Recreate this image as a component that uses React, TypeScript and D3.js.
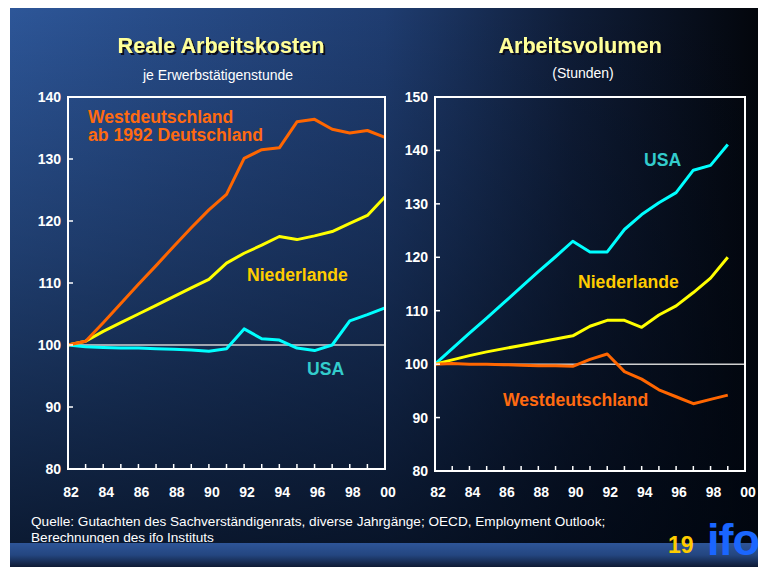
import React from "react";
import * as d3 from "d3";

const W = 758;
const H = 567;

const yearsLeft = [1982, 1983, 1984, 1985, 1986, 1987, 1988, 1989, 1990, 1991, 1992, 1993, 1994, 1995, 1996, 1997, 1998, 1999, 2000];
const leftWest = [100, 100.6, 103.6, 106.7, 109.8, 112.8, 115.9, 118.9, 121.8, 124.3, 130.1, 131.5, 131.8, 136.0, 136.4, 134.8, 134.2, 134.6, 133.5];
const leftNL = [100, 100.6, 102.2, 103.6, 105.0, 106.4, 107.8, 109.2, 110.6, 113.2, 114.8, 116.1, 117.5, 117.0, 117.6, 118.3, 119.6, 120.9, 123.9];
const leftUSA = [100, 99.7, 99.6, 99.5, 99.5, 99.4, 99.3, 99.2, 99.0, 99.4, 102.6, 101.0, 100.8, 99.5, 99.1, 100.0, 103.9, 104.9, 106.0];

const yearsRight = [1982, 1983, 1984, 1985, 1986, 1987, 1988, 1989, 1990, 1991, 1992, 1993, 1994, 1995, 1996, 1997, 1998, 1999];
const rightUSA = [100, 102.9, 105.8, 108.6, 111.5, 114.4, 117.3, 120.1, 123.0, 121.0, 121.0, 125.2, 128.0, 130.2, 132.1, 136.3, 137.2, 141.1];
const rightNL = [100, 100.8, 101.6, 102.3, 102.9, 103.5, 104.1, 104.7, 105.3, 107.1, 108.2, 108.2, 106.9, 109.2, 110.9, 113.4, 116.1, 120.0];
const rightWest = [100, 100.1, 100.0, 100.0, 99.9, 99.8, 99.7, 99.7, 99.6, 100.9, 101.9, 98.6, 97.2, 95.2, 93.9, 92.6, 93.4, 94.2];

const xTickYears = [1982, 1984, 1986, 1988, 1990, 1992, 1994, 1996, 1998, 2000];
const leftYTicks = [80, 90, 100, 110, 120, 130, 140];
const rightYTicks = [80, 90, 100, 110, 120, 130, 140, 150];

const leftTitle = "Reale Arbeitskosten";
const leftSubtitle = "je Erwerbstätigenstunde";
const rightTitle = "Arbeitsvolumen";
const rightSubtitle = "(Stunden)";
const leftLabels = { west: ["Westdeutschland", "ab 1992 Deutschland"], nl: "Niederlande", usa: "USA" };
const rightLabels = { west: "Westdeutschland", nl: "Niederlande", usa: "USA" };
const sourceLines = [
  "Quelle: Gutachten des Sachverständigenrats, diverse Jahrgänge; OECD, Employment Outlook;",
  "Berechnungen des ifo Instituts",
];
const pageNo = "19";
const logo = "ifo";

const C_ORANGE = "#ff6600";
const C_YELLOW = "#ffff00";
const C_CYAN = "#00ffff";
const T_ORANGE = "#ff6a10";
const T_YELLOW = "#ffcc00";
const T_CYAN = "#33cccc";
const FONT = "'Liberation Sans', Arial, sans-serif";

const allYears = d3.range(1982, 2001);

type PanelProps = {
  x0: number; x1: number; y0: number; y1: number; yMax: number; yTicks: number[];
  series: { years: number[]; values: number[]; color: string }[];
};

function Panel({ x0, x1, y0, y1, yMax, yTicks, series }: PanelProps) {
  const x = d3.scaleLinear().domain([1982, 2000]).range([x0, x1]);
  const y = d3.scaleLinear().domain([80, yMax]).range([y1, y0]);
  return (
    <g>
      <line x1={x0} x2={x1} y1={y(100)} y2={y(100)} stroke="#d0d0d0" strokeWidth={1.5} />
      {series.map((s, i) => {
        const line = d3.line<number>().x((_, j) => x(s.years[j])).y((v) => y(v));
        return <path key={i} d={line(s.values) || ""} fill="none" stroke={s.color} strokeWidth={3} strokeLinejoin="round" />;
      })}
      <rect x={x0} y={y0} width={x1 - x0} height={y1 - y0} fill="none" stroke="#ffffff" strokeWidth={2} />
      {allYears.map((yr) => (
        <line key={yr} x1={x(yr)} x2={x(yr)} y1={y1} y2={y1 - 5} stroke="#ffffff" strokeWidth={1.5} />
      ))}
      {yTicks.map((t) => (
        <g key={t}>
          <line x1={x0} x2={x0 + 5} y1={y(t)} y2={y(t)} stroke="#ffffff" strokeWidth={1.5} />
          <text x={x0 - 7} y={y(t) + 5} textAnchor="end" fill="#ffffff" fontFamily={FONT} fontWeight="bold" fontSize={14}>{t}</text>
        </g>
      ))}
      {xTickYears.map((yr) => (
        <text key={yr} x={x(yr) + 3} y={497} textAnchor="middle" fill="#ffffff" fontFamily={FONT} fontWeight="bold" fontSize={14}>
          {String(yr % 100).padStart(2, "0")}
        </text>
      ))}
    </g>
  );
}

function Title({ x, text }: { x: number; text: string }) {
  return (
    <text x={x} y={53} fill="#ffff99" fontFamily={FONT} fontWeight="bold" fontSize={21.6} textAnchor="middle" filter="url(#shadow)">
      {text}
    </text>
  );
}

export default function App() {
  return (
    <svg width={W} height={H} style={{ position: "absolute", left: 0, top: 0 }}>
      <defs>
        <linearGradient id="bgH" x1="0" y1="0" x2="1" y2="0">
          <stop offset="0" stopColor="#2d5698" />
          <stop offset="0.5" stopColor="#1f3d71" />
          <stop offset="0.75" stopColor="#0f1d38" />
          <stop offset="1" stopColor="#03060c" />
        </linearGradient>
        <linearGradient id="bgV" x1="0" y1="0" x2="0" y2="1">
          <stop offset="0" stopColor="#000610" stopOpacity={0} />
          <stop offset="0.45" stopColor="#000610" stopOpacity={0.3} />
          <stop offset="1" stopColor="#000610" stopOpacity={0.74} />
        </linearGradient>
        <linearGradient id="band" x1="0" y1="0" x2="0" y2="1">
          <stop offset="0" stopColor="#2e5598" />
          <stop offset="0.5" stopColor="#244680" />
          <stop offset="1" stopColor="#0e1a34" />
        </linearGradient>
        <filter id="shadow" x="-10%" y="-30%" width="120%" height="160%">
          <feDropShadow dx={2} dy={2} stdDeviation={0.4} floodColor="#0a0f1e" floodOpacity={1} />
        </filter>
      </defs>
      <rect x={0} y={0} width={W} height={H} fill="#ffffff" />
      <rect x={10} y={8} width={W - 10} height={535} fill="url(#bgH)" />
      <rect x={10} y={8} width={W - 10} height={535} fill="url(#bgV)" />

      <Title x={221} text={leftTitle} />
      <text x={218} y={80} textAnchor="middle" fill="#ffffff" fontFamily={FONT} fontSize={14}>{leftSubtitle}</text>
      <Title x={580} text={rightTitle} />
      <text x={583} y={78} textAnchor="middle" fill="#ffffff" fontFamily={FONT} fontSize={14}>{rightSubtitle}</text>

      <Panel
        x0={68} x1={385} y0={97} y1={469} yMax={140} yTicks={leftYTicks}
        series={[
          { years: yearsLeft, values: leftUSA, color: C_CYAN },
          { years: yearsLeft, values: leftNL, color: C_YELLOW },
          { years: yearsLeft, values: leftWest, color: C_ORANGE },
        ]}
      />
      <Panel
        x0={435} x1={745} y0={97} y1={471} yMax={150} yTicks={rightYTicks}
        series={[
          { years: yearsRight, values: rightUSA, color: C_CYAN },
          { years: yearsRight, values: rightNL, color: C_YELLOW },
          { years: yearsRight, values: rightWest, color: C_ORANGE },
        ]}
      />

      <g fontFamily={FONT} fontWeight="bold" fontSize={17.6}>
        <text x={88} y={123} fill={T_ORANGE}>{leftLabels.west[0]}</text>
        <text x={88} y={141} fill={T_ORANGE}>{leftLabels.west[1]}</text>
        <text x={247} y={281} fill={T_YELLOW}>{leftLabels.nl}</text>
        <text x={307} y={375} fill={T_CYAN}>{leftLabels.usa}</text>
        <text x={644} y={166} fill={T_CYAN}>{rightLabels.usa}</text>
        <text x={578} y={288} fill={T_YELLOW}>{rightLabels.nl}</text>
        <text x={503} y={406} fill={T_ORANGE}>{rightLabels.west}</text>
      </g>

      <g fontFamily={FONT} fontSize={13.6} fill="#ffffff">
        <text x={31} y={526}>{sourceLines[0]}</text>
        <text x={31} y={541.5}>{sourceLines[1]}</text>
      </g>
      <rect x={10} y={543} width={W - 10} height={24} fill="url(#band)" />
      <text x={668} y={553} fill="#ffcc00" fontFamily={FONT} fontWeight="bold" fontSize={23}>{pageNo}</text>
      <text x={707} y={555} fill="#1a66ff" fontFamily={FONT} fontWeight="bold" fontSize={45} letterSpacing={-1}>{logo}</text>
    </svg>
  );
}
